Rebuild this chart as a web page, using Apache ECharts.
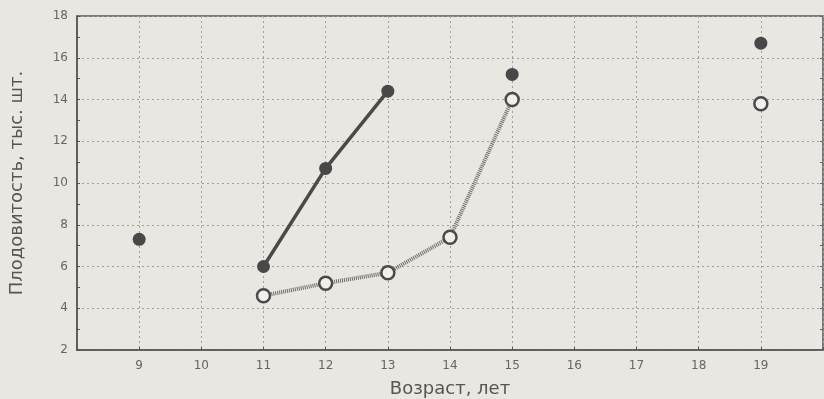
<!DOCTYPE html>
<html>
<head>
<meta charset="utf-8">
<script src="https://cdn.jsdelivr.net/npm/echarts@6/dist/echarts.min.js"></script>
<style>
  html, body { margin: 0; padding: 0; background: #eae6e2; }
  #chart { width: 824px; height: 399px; }
</style>
</head>
<body>
<div id="chart"></div>
<script>
// возраст, лет
const ages = [9, 10, 11, 12, 13, 14, 15, 16, 17, 18, 19]
// плодовитость (тёмные точки), null = нет точки
const filledValues = [7.3, null, 6.0, 10.7, 14.4, null, 15.2, null, null, null, 16.7]
// плодовитость (светлые кружки)
const openValues = [null, null, 4.6, 5.2, 5.7, 7.4, 14.0, null, null, null, 13.8]
const yTicks = [2, 4, 6, 8, 10, 12, 14, 16, 18]

const toPairs = vals => ages.map((a, i) => [a, vals[i] === null ? '-' : vals[i]])

const gridLine = { show: true, lineStyle: { color: '#a19e9a', type: [2, 3], width: 1 } }

const chart = echarts.init(document.getElementById('chart'))
chart.setOption({
  backgroundColor: '#eae6e2',
  textStyle: { fontFamily: 'DejaVu Sans, sans-serif' },
  grid: {
    left: 77,
    top: 16,
    right: 1,
    bottom: 49,
    outerBoundsMode: 'none',
    show: true,
    borderColor: '#555',
    borderWidth: 1.5,
    backgroundColor: 'transparent'
  },
  xAxis: {
    type: 'value',
    min: 8,
    max: 20,
    interval: 1,
    name: 'Возраст, лет',
    nameLocation: 'middle',
    nameGap: 30,
    nameTextStyle: { fontSize: 18, color: '#555' },
    axisLine: { lineStyle: { color: '#555', width: 1.5 } },
    axisTick: { show: true, inside: true, length: 3, lineStyle: { color: '#555' } },
    axisLabel: {
      fontSize: 12,
      color: '#666',
      margin: 10,
      formatter: v => (v >= ages[0] && v <= ages[ages.length - 1]) ? v : ''
    },
    splitLine: gridLine
  },
  yAxis: [
    {
      type: 'value',
      min: yTicks[0],
      max: yTicks[yTicks.length - 1],
      interval: 2,
      name: 'Плодовитость, тыс. шт.',
      nameLocation: 'middle',
      nameGap: 51,
      nameTextStyle: { fontSize: 18, color: '#555' },
      axisLine: { show: true, lineStyle: { color: '#555', width: 1.5 } },
      axisTick: { show: true, inside: true, length: 3, lineStyle: { color: '#555' } },
      minorTick: { show: true, splitNumber: 2, length: 3, lineStyle: { color: '#555' } },
      axisLabel: { fontSize: 12, color: '#666', margin: 9 },
      splitLine: gridLine
    },
    {
      type: 'value',
      position: 'right',
      min: yTicks[0],
      max: yTicks[yTicks.length - 1],
      interval: 2,
      axisLine: { show: false },
      axisTick: { show: true, inside: true, length: 3, lineStyle: { color: '#666' } },
      minorTick: { show: true, splitNumber: 2, length: 3, lineStyle: { color: '#666' } },
      axisLabel: { show: false },
      splitLine: { show: false }
    }
  ],
  series: [
    {
      name: 'open',
      type: 'line',
      yAxisIndex: 0,
      data: toPairs(openValues),
      connectNulls: false,
      symbol: 'circle',
      symbolSize: 13,
      itemStyle: { color: '#f3f0ec', borderColor: '#4a4a4a', borderWidth: 2.5 },
      lineStyle: { color: '#6e6c6a', width: 4, type: [1, 1] },
      z: 3
    },
    {
      name: 'filled',
      type: 'line',
      yAxisIndex: 0,
      data: toPairs(filledValues),
      connectNulls: false,
      symbol: 'circle',
      symbolSize: 13,
      itemStyle: { color: '#484848', borderColor: '#484848', borderWidth: 0 },
      lineStyle: { color: '#4a4a4a', width: 3.5 },
      z: 4
    }
  ]
})
</script>
</body>
</html>
